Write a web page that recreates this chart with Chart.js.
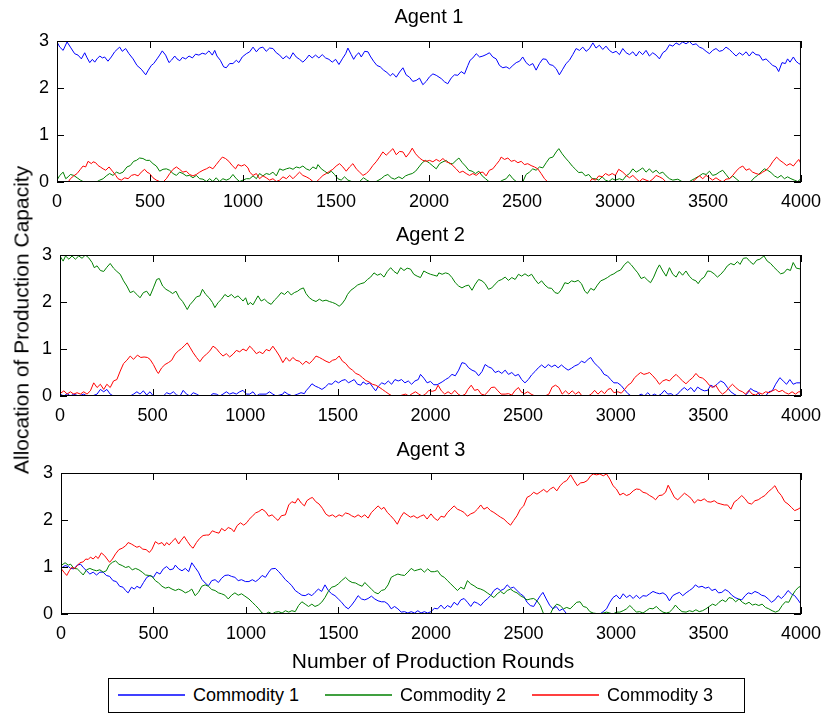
<!DOCTYPE html>
<html>
<head>
<meta charset="utf-8">
<title>Allocation of Production Capacity</title>
<script src="https://cdn.jsdelivr.net/npm/chart.js@4.4.1/dist/chart.umd.min.js"></script>
<style>
  html, body { margin: 0; padding: 0; background: #fff; }
  body { width: 830px; height: 715px; position: relative; overflow: hidden;
         font-family: "Liberation Sans", Arial, Helvetica, sans-serif; color: #000; }
  canvas { position: absolute; left: 0; }
  .axis-label { position: absolute; font-size: 21px; white-space: nowrap; line-height: 1; }
  #xlabel { left: 433px; top: 660px; transform: translate(-50%, -50%); }
  #ylabel { left: 21px; top: 320px; transform: translate(-50%, -50%) rotate(-90deg); }
  #legend { position: absolute; left: 108px; top: 678px; width: 635px; height: 33px;
            border: 1px solid #000; background: #fff; }
  .entry { position: absolute; top: 0; height: 33px; }
  .entry svg { position: absolute; left: 0; top: 11px; }
  .entry .name { position: absolute; left: 75px; top: 7px; font-size: 18px; line-height: 1; white-space: nowrap; }
</style>
</head>
<body>
<canvas id="agent1" width="830" height="215" style="top:0px"></canvas>
<canvas id="agent2" width="830" height="215" style="top:215px"></canvas>
<canvas id="agent3" width="830" height="220" style="top:430px"></canvas>
<div id="ylabel" class="axis-label">Allocation of Production Capacity</div>
<div id="xlabel" class="axis-label">Number of Production Rounds</div>
<div id="legend"></div>
<script>
// ---- data: [production round, allocated capacity] ----
const commodityNames = ['Commodity 1', 'Commodity 2', 'Commodity 3'];
const agentTitles = ['Agent 1', 'Agent 2', 'Agent 3'];
const roundTicks = { min: 0, max: 4000, step: 500 };
const capacityTicks = { min: 0, max: 3, step: 1 };

const agent1Commodity1 = [[0,2.98],[15,2.87],[33,2.80],[54,2.98],[72,2.87],[95,2.73],[113,2.70],[131,2.62],[149,2.75],[162,2.64],[176,2.54],[190,2.61],[203,2.55],[215,2.62],[230,2.68],[244,2.64],[256,2.66],[274,2.57],[292,2.66],[310,2.77],[323,2.82],[337,2.87],[351,2.78],[369,2.84],[387,2.73],[409,2.62],[430,2.48],[453,2.40],[477,2.28],[491,2.38],[507,2.48],[520,2.52],[538,2.62],[552,2.70],[566,2.79],[584,2.70],[602,2.54],[615,2.59],[633,2.68],[645,2.62],[660,2.58],[674,2.65],[692,2.62],[710,2.68],[728,2.64],[745,2.72],[763,2.70],[781,2.74],[799,2.72],[817,2.79],[835,2.70],[848,2.80],[860,2.68],[878,2.59],[896,2.45],[910,2.43],[928,2.52],[946,2.52],[964,2.59],[978,2.54],[996,2.66],[1018,2.73],[1036,2.77],[1054,2.87],[1072,2.77],[1089,2.85],[1107,2.87],[1125,2.78],[1143,2.85],[1161,2.84],[1179,2.75],[1197,2.70],[1215,2.62],[1233,2.68],[1251,2.62],[1269,2.75],[1286,2.66],[1304,2.61],[1322,2.55],[1340,2.62],[1355,2.70],[1372,2.64],[1390,2.70],[1408,2.64],[1426,2.71],[1444,2.64],[1462,2.61],[1480,2.55],[1498,2.61],[1516,2.50],[1534,2.62],[1552,2.73],[1564,2.85],[1582,2.71],[1595,2.61],[1609,2.70],[1623,2.75],[1636,2.66],[1654,2.78],[1672,2.77],[1684,2.68],[1702,2.57],[1720,2.48],[1738,2.45],[1756,2.38],[1774,2.33],[1792,2.26],[1806,2.31],[1824,2.23],[1842,2.34],[1860,2.43],[1877,2.28],[1895,2.23],[1913,2.14],[1931,2.16],[1949,2.21],[1967,2.07],[1985,2.14],[2003,2.24],[2021,2.30],[2039,2.27],[2066,2.20],[2084,2.13],[2101,2.09],[2119,2.21],[2137,2.28],[2155,2.27],[2173,2.35],[2191,2.30],[2209,2.48],[2221,2.59],[2236,2.64],[2254,2.73],[2272,2.66],[2290,2.68],[2307,2.71],[2325,2.75],[2343,2.66],[2361,2.62],[2379,2.48],[2397,2.43],[2415,2.45],[2433,2.41],[2451,2.48],[2469,2.54],[2487,2.57],[2504,2.66],[2522,2.54],[2540,2.48],[2558,2.52],[2576,2.38],[2594,2.52],[2612,2.62],[2630,2.61],[2648,2.50],[2666,2.48],[2684,2.41],[2701,2.28],[2719,2.40],[2737,2.52],[2755,2.59],[2773,2.71],[2791,2.84],[2809,2.80],[2827,2.87],[2845,2.78],[2863,2.84],[2881,2.96],[2898,2.85],[2916,2.91],[2934,2.82],[2952,2.89],[2970,2.80],[2988,2.75],[3006,2.78],[3024,2.71],[3042,2.84],[3060,2.75],[3078,2.71],[3096,2.77],[3114,2.68],[3131,2.78],[3149,2.71],[3167,2.80],[3185,2.68],[3203,2.75],[3221,2.70],[3239,2.62],[3257,2.75],[3275,2.80],[3293,2.92],[3311,2.89],[3328,2.96],[3346,2.92],[3364,2.98],[3382,2.94],[3400,2.99],[3418,2.92],[3436,2.94],[3454,2.87],[3472,2.84],[3490,2.78],[3508,2.73],[3525,2.80],[3543,2.84],[3561,2.78],[3579,2.80],[3597,2.87],[3615,2.82],[3633,2.75],[3651,2.68],[3669,2.75],[3687,2.70],[3705,2.77],[3722,2.68],[3740,2.77],[3758,2.71],[3776,2.70],[3794,2.59],[3812,2.62],[3830,2.55],[3848,2.48],[3866,2.45],[3880,2.35],[3898,2.54],[3916,2.52],[3928,2.62],[3941,2.55],[3959,2.66],[3973,2.57],[3988,2.52],[4000,2.50]];

const agent1Commodity2 = [[0,0.04],[15,0.14],[33,0.21],[47,0.07],[60,0.11],[72,0.16],[90,0.14],[108,0.09],[126,0.04],[140,0.01],[162,0],[185,0.01],[212,0],[230,0.04],[248,0.07],[265,0.13],[283,0.18],[301,0.14],[319,0.21],[337,0.18],[355,0.21],[376,0.32],[394,0.35],[412,0.44],[427,0.46],[444,0.51],[462,0.50],[480,0.46],[498,0.46],[516,0.39],[534,0.34],[552,0.23],[570,0.27],[588,0.28],[606,0.25],[624,0.18],[642,0.14],[659,0.21],[677,0.18],[695,0.13],[713,0.14],[731,0.09],[749,0.14],[767,0.07],[785,0.06],[803,0.01],[821,0.07],[838,0.01],[856,0.09],[874,0.01],[892,0.07],[910,0.04],[928,0.07],[946,0.16],[964,0.07],[982,0.01],[1000,0.04],[1018,0.07],[1036,0.07],[1054,0.13],[1072,0.07],[1089,0.18],[1107,0.13],[1125,0.18],[1143,0.16],[1161,0.21],[1179,0.13],[1197,0.28],[1215,0.25],[1233,0.28],[1251,0.30],[1269,0.27],[1286,0.32],[1304,0.30],[1322,0.34],[1340,0.28],[1358,0.25],[1376,0.32],[1394,0.28],[1403,0.37],[1421,0.28],[1439,0.23],[1457,0.18],[1475,0.23],[1492,0.16],[1510,0.07],[1528,0.04],[1546,0.11],[1564,0.04],[1591,0],[1627,0.01],[1648,0.09],[1666,0.04],[1684,0],[1716,0.01],[1743,0.07],[1761,0.13],[1779,0.16],[1797,0.09],[1815,0.06],[1838,0.11],[1856,0.07],[1874,0.13],[1892,0.16],[1910,0.18],[1928,0.23],[1946,0.32],[1964,0.41],[1981,0.46],[2003,0.40],[2021,0.34],[2039,0.28],[2057,0.39],[2075,0.43],[2093,0.46],[2110,0.39],[2128,0.39],[2146,0.46],[2161,0.51],[2179,0.41],[2196,0.34],[2214,0.25],[2232,0.23],[2250,0.18],[2268,0.23],[2286,0.13],[2304,0.07],[2322,0.01],[2343,0],[2379,0],[2397,0.04],[2415,0.07],[2433,0.16],[2451,0.07],[2469,0.01],[2487,0],[2504,0],[2522,0.16],[2540,0.21],[2558,0.28],[2576,0.25],[2594,0.32],[2612,0.30],[2630,0.41],[2648,0.51],[2666,0.53],[2684,0.64],[2698,0.71],[2716,0.60],[2734,0.51],[2752,0.43],[2770,0.34],[2788,0.27],[2805,0.20],[2823,0.21],[2841,0.13],[2859,0.16],[2877,0.07],[2895,0.07],[2913,0.04],[2931,0.11],[2949,0.04],[2967,0.01],[2985,0.07],[3002,0.04],[3024,0.07],[3042,0.04],[3060,0.13],[3078,0.18],[3096,0.28],[3114,0.21],[3131,0.25],[3149,0.30],[3167,0.21],[3185,0.28],[3203,0.20],[3221,0.25],[3239,0.18],[3257,0.21],[3275,0.13],[3293,0.07],[3311,0.04],[3338,0.06],[3364,0],[3400,0.01],[3427,0.07],[3454,0.13],[3472,0.18],[3490,0.16],[3508,0.23],[3525,0.14],[3543,0.16],[3561,0.21],[3579,0.25],[3597,0.16],[3615,0.07],[3633,0.13],[3651,0.07],[3669,0.01],[3705,0],[3731,0.01],[3749,0.09],[3767,0.14],[3785,0.21],[3803,0.28],[3821,0.25],[3839,0.20],[3857,0.13],[3875,0.09],[3893,0.14],[3911,0.07],[3928,0.11],[3946,0.07],[3964,0.04],[3982,0.01],[4000,0.07]];

const agent1Commodity3 = [[0,0.01],[33,0],[60,0],[72,0.07],[90,0.13],[108,0.18],[126,0.27],[140,0.34],[154,0.32],[167,0.44],[185,0.39],[194,0.43],[208,0.41],[221,0.35],[233,0.32],[248,0.28],[262,0.25],[280,0.32],[298,0.23],[316,0.14],[328,0.07],[346,0.04],[364,0.09],[382,0.07],[400,0.14],[418,0.16],[436,0.13],[453,0.21],[471,0.27],[484,0.21],[498,0.18],[516,0.09],[534,0.04],[552,0.01],[570,0],[588,0.07],[606,0.18],[624,0.27],[642,0.32],[659,0.27],[677,0.21],[695,0.23],[713,0.16],[731,0.13],[749,0.16],[767,0.21],[785,0.25],[803,0.28],[821,0.32],[838,0.28],[856,0.37],[874,0.46],[889,0.53],[906,0.50],[924,0.44],[942,0.35],[960,0.28],[973,0.37],[991,0.34],[1009,0.37],[1027,0.30],[1036,0.21],[1054,0.14],[1072,0.18],[1089,0.07],[1107,0.13],[1125,0.09],[1143,0.04],[1161,0.07],[1179,0.01],[1197,0.04],[1215,0.11],[1233,0.07],[1251,0.14],[1269,0.07],[1286,0.14],[1304,0.21],[1322,0.14],[1340,0.11],[1358,0.07],[1376,0.01],[1394,0],[1412,0.07],[1430,0.14],[1448,0.18],[1466,0.23],[1483,0.27],[1501,0.34],[1519,0.39],[1537,0.32],[1555,0.23],[1573,0.32],[1591,0.39],[1609,0.28],[1627,0.21],[1645,0.14],[1663,0.18],[1680,0.25],[1698,0.35],[1716,0.43],[1734,0.53],[1752,0.64],[1770,0.57],[1788,0.64],[1806,0.71],[1824,0.58],[1842,0.65],[1860,0.64],[1877,0.53],[1895,0.62],[1910,0.72],[1928,0.60],[1949,0.51],[1967,0.46],[1985,0.44],[2003,0.46],[2021,0.43],[2039,0.48],[2057,0.44],[2075,0.50],[2093,0.43],[2110,0.41],[2128,0.35],[2146,0.28],[2164,0.20],[2182,0.23],[2200,0.18],[2218,0.14],[2236,0.18],[2254,0.14],[2272,0.20],[2290,0.21],[2307,0.13],[2325,0.25],[2343,0.28],[2361,0.37],[2379,0.46],[2388,0.53],[2406,0.48],[2424,0.51],[2442,0.44],[2460,0.46],[2478,0.41],[2496,0.44],[2513,0.37],[2531,0.39],[2549,0.35],[2567,0.32],[2585,0.28],[2603,0.18],[2621,0.07],[2639,0],[2684,0],[2755,0],[2827,0],[2863,0],[2877,0.07],[2895,0.04],[2913,0.13],[2931,0.11],[2949,0.18],[2967,0.14],[2985,0.18],[3002,0.14],[3020,0.27],[3042,0.21],[3060,0.14],[3078,0.09],[3096,0.14],[3114,0.07],[3131,0.01],[3149,0.07],[3167,0.04],[3185,0.01],[3203,0.06],[3221,0.14],[3239,0.11],[3257,0.07],[3275,0],[3311,0],[3346,0.01],[3382,0],[3418,0.01],[3436,0.07],[3454,0.13],[3472,0.07],[3490,0.14],[3508,0.09],[3525,0.04],[3543,0.09],[3561,0.04],[3579,0],[3597,0.06],[3615,0.07],[3633,0.14],[3651,0.23],[3669,0.30],[3687,0.34],[3705,0.25],[3722,0.28],[3740,0.21],[3758,0.18],[3776,0.16],[3794,0.21],[3812,0.25],[3830,0.32],[3848,0.43],[3869,0.53],[3887,0.46],[3905,0.41],[3923,0.35],[3941,0.39],[3959,0.34],[3973,0.41],[3988,0.48],[4000,0.39]];

const agent2Commodity1 = [[0,0.04],[21,0],[39,0.05],[56,0],[74,0.04],[101,0],[128,0.04],[146,0],[173,0],[200,0.04],[218,0.14],[236,0.09],[253,0.14],[271,0.04],[289,0],[379,0],[397,0.04],[415,0.09],[432,0.04],[450,0.11],[468,0.02],[486,0.09],[504,0],[558,0],[576,0.07],[594,0.04],[612,0.09],[630,0.02],[648,0],[665,0.12],[683,0.04],[701,0],[719,0.07],[737,0.04],[755,0],[809,0],[826,0.05],[844,0.04],[862,0],[880,0.04],[898,0.09],[916,0.04],[934,0.07],[952,0.04],[970,0.09],[988,0.12],[1006,0.04],[1024,0.04],[1042,0.09],[1060,0],[1077,0.04],[1113,0.04],[1131,0.09],[1149,0.04],[1167,0],[1203,0.04],[1212,0.09],[1230,0.04],[1257,0],[1283,0.04],[1301,0.07],[1319,0.05],[1328,0.11],[1346,0.19],[1360,0.26],[1378,0.21],[1396,0.18],[1414,0.14],[1432,0.19],[1450,0.26],[1468,0.25],[1486,0.32],[1504,0.28],[1522,0.33],[1540,0.35],[1557,0.28],[1575,0.32],[1588,0.35],[1606,0.25],[1624,0.23],[1636,0.30],[1654,0.25],[1672,0.28],[1690,0.18],[1704,0.11],[1719,0.21],[1737,0.28],[1754,0.25],[1772,0.32],[1790,0.25],[1808,0.35],[1826,0.32],[1844,0.35],[1862,0.28],[1880,0.32],[1898,0.25],[1916,0.32],[1934,0.35],[1946,0.46],[1964,0.38],[1982,0.28],[2000,0.31],[2018,0.24],[2036,0.24],[2063,0.30],[2081,0.35],[2098,0.39],[2116,0.46],[2134,0.43],[2152,0.55],[2170,0.71],[2188,0.69],[2206,0.60],[2224,0.55],[2242,0.52],[2260,0.43],[2278,0.52],[2295,0.67],[2313,0.62],[2331,0.59],[2349,0.50],[2367,0.53],[2385,0.48],[2403,0.55],[2421,0.46],[2439,0.50],[2457,0.43],[2475,0.46],[2492,0.35],[2510,0.28],[2528,0.35],[2546,0.45],[2564,0.52],[2582,0.60],[2600,0.66],[2618,0.60],[2636,0.67],[2654,0.62],[2672,0.66],[2689,0.60],[2707,0.66],[2725,0.60],[2743,0.55],[2761,0.59],[2779,0.64],[2797,0.67],[2815,0.74],[2833,0.71],[2851,0.78],[2865,0.82],[2883,0.71],[2901,0.64],[2919,0.57],[2937,0.46],[2955,0.43],[2973,0.35],[2990,0.28],[3010,0.28],[3030,0.22],[3048,0.13],[3066,0.05],[3084,0],[3119,0],[3137,0.04],[3155,0],[3173,0.07],[3191,0],[3209,0.04],[3227,0],[3245,0.04],[3263,0.12],[3281,0.04],[3299,0.05],[3316,0],[3334,0.04],[3352,0.12],[3370,0.18],[3388,0.12],[3406,0.18],[3424,0.09],[3442,0.19],[3460,0.14],[3478,0.11],[3496,0.12],[3513,0.23],[3531,0.19],[3549,0.26],[3567,0.32],[3585,0.28],[3603,0.18],[3621,0.09],[3639,0.04],[3657,0],[3693,0],[3710,0.05],[3728,0.16],[3746,0.11],[3764,0.09],[3782,0],[3809,0],[3827,0.09],[3845,0.11],[3863,0.25],[3886,0.39],[3904,0.32],[3922,0.25],[3940,0.35],[3958,0.25],[3976,0.28],[4000,0.28]];

const agent2Commodity2 = [[0,2.98],[17,2.87],[30,2.98],[48,2.91],[65,2.98],[83,2.91],[101,2.98],[119,2.93],[137,3.0],[155,2.94],[173,2.84],[185,2.73],[200,2.77],[218,2.67],[236,2.65],[253,2.74],[271,2.82],[289,2.72],[307,2.65],[325,2.59],[343,2.45],[361,2.34],[379,2.20],[397,2.23],[415,2.16],[432,2.09],[450,2.20],[468,2.23],[486,2.13],[504,2.30],[522,2.48],[536,2.50],[554,2.34],[572,2.27],[590,2.23],[608,2.18],[626,2.23],[644,2.09],[662,2.01],[680,1.89],[687,1.84],[701,1.94],[719,2.02],[737,2.11],[755,2.13],[769,2.27],[787,2.16],[805,2.09],[823,1.99],[836,1.88],[854,1.99],[872,2.06],[890,2.16],[907,2.11],[925,2.16],[943,2.09],[961,2.13],[979,2.06],[988,2.02],[1002,2.09],[1015,1.94],[1027,1.99],[1042,1.94],[1056,2.04],[1069,2.13],[1086,2.02],[1104,2.06],[1122,1.99],[1140,1.95],[1158,2.04],[1176,2.11],[1194,2.20],[1212,2.16],[1230,2.23],[1248,2.15],[1265,2.20],[1283,2.23],[1296,2.27],[1314,2.30],[1328,2.18],[1346,2.09],[1364,2.04],[1382,2.01],[1400,2.06],[1418,2.02],[1436,2.04],[1454,2.01],[1471,1.99],[1489,1.96],[1507,1.91],[1522,1.96],[1540,2.06],[1552,2.16],[1570,2.25],[1588,2.30],[1606,2.36],[1624,2.39],[1642,2.41],[1660,2.48],[1677,2.53],[1695,2.62],[1713,2.57],[1731,2.60],[1749,2.53],[1767,2.65],[1785,2.73],[1803,2.65],[1821,2.60],[1839,2.73],[1857,2.67],[1874,2.72],[1892,2.70],[1910,2.59],[1928,2.55],[1946,2.52],[1964,2.66],[1982,2.62],[2000,2.59],[2018,2.57],[2036,2.55],[2045,2.62],[2063,2.59],[2081,2.62],[2098,2.60],[2116,2.52],[2134,2.41],[2152,2.34],[2170,2.30],[2188,2.34],[2206,2.36],[2224,2.25],[2242,2.38],[2260,2.48],[2278,2.45],[2295,2.39],[2313,2.27],[2331,2.30],[2349,2.38],[2367,2.45],[2385,2.48],[2403,2.53],[2421,2.46],[2439,2.52],[2457,2.48],[2475,2.59],[2492,2.55],[2510,2.60],[2528,2.55],[2546,2.59],[2564,2.48],[2582,2.39],[2600,2.45],[2618,2.36],[2636,2.30],[2654,2.29],[2672,2.20],[2689,2.18],[2707,2.27],[2725,2.41],[2743,2.39],[2761,2.45],[2779,2.43],[2797,2.46],[2815,2.39],[2833,2.23],[2847,2.18],[2865,2.29],[2883,2.25],[2901,2.36],[2919,2.45],[2937,2.48],[2955,2.52],[2973,2.57],[2990,2.60],[3008,2.65],[3026,2.68],[3048,2.80],[3066,2.86],[3084,2.79],[3102,2.70],[3119,2.62],[3137,2.50],[3155,2.53],[3173,2.46],[3188,2.41],[3205,2.53],[3223,2.70],[3236,2.79],[3254,2.66],[3272,2.55],[3290,2.73],[3308,2.59],[3326,2.53],[3343,2.65],[3361,2.57],[3379,2.66],[3397,2.55],[3415,2.48],[3433,2.45],[3445,2.39],[3460,2.48],[3478,2.53],[3496,2.66],[3513,2.65],[3531,2.60],[3549,2.53],[3567,2.59],[3585,2.67],[3603,2.77],[3621,2.82],[3639,2.79],[3657,2.86],[3671,2.80],[3689,2.93],[3707,2.94],[3725,2.86],[3743,2.80],[3761,2.89],[3778,2.91],[3800,2.98],[3818,2.87],[3836,2.82],[3854,2.74],[3872,2.67],[3890,2.60],[3908,2.62],[3925,2.70],[3943,2.67],[3958,2.84],[3975,2.72],[4000,2.70]];

const agent2Commodity3 = [[0,0.05],[21,0.11],[39,0.04],[56,0.09],[74,0.04],[92,0.07],[110,0.04],[128,0.09],[146,0.04],[164,0.11],[182,0.28],[200,0.18],[218,0.25],[236,0.14],[253,0.25],[271,0.18],[289,0.32],[307,0.35],[325,0.53],[343,0.69],[361,0.76],[379,0.85],[397,0.78],[418,0.87],[436,0.82],[454,0.83],[472,0.82],[486,0.78],[504,0.67],[522,0.53],[531,0.48],[549,0.60],[567,0.67],[585,0.71],[603,0.76],[621,0.89],[639,0.96],[656,1.01],[674,1.08],[687,1.13],[701,1.04],[719,0.92],[737,0.82],[755,0.73],[773,0.83],[791,0.89],[809,0.96],[826,1.06],[844,1.01],[862,0.92],[880,0.85],[898,0.90],[916,0.83],[934,0.89],[952,0.97],[970,0.94],[988,1.00],[1006,0.96],[1024,1.06],[1042,0.99],[1060,0.90],[1077,0.94],[1095,0.90],[1113,0.99],[1131,0.96],[1149,1.06],[1167,0.96],[1185,0.85],[1203,0.71],[1221,0.82],[1239,0.74],[1257,0.82],[1274,0.76],[1292,0.74],[1310,0.67],[1328,0.74],[1346,0.69],[1364,0.76],[1382,0.85],[1400,0.82],[1418,0.78],[1436,0.74],[1454,0.71],[1471,0.76],[1489,0.78],[1507,0.85],[1525,0.74],[1543,0.69],[1561,0.60],[1579,0.55],[1597,0.48],[1615,0.45],[1633,0.39],[1651,0.33],[1668,0.30],[1686,0.25],[1704,0.23],[1722,0.19],[1740,0.14],[1758,0.09],[1776,0.04],[1794,0],[1830,0],[1865,0.04],[1883,0],[1901,0.05],[1919,0.09],[1937,0.04],[1955,0],[1973,0.04],[1991,0.12],[2009,0.10],[2027,0.12],[2041,0.23],[2059,0.11],[2077,0.04],[2095,0.09],[2113,0.04],[2131,0.12],[2149,0.04],[2167,0],[2188,0.04],[2202,0.14],[2220,0.23],[2238,0.12],[2256,0.14],[2274,0.04],[2292,0.02],[2310,0.09],[2328,0.18],[2346,0.19],[2364,0.11],[2381,0.04],[2403,0.04],[2421,0.05],[2439,0.02],[2457,0.12],[2475,0.18],[2489,0.09],[2507,0.05],[2525,0.09],[2543,0.04],[2564,0],[2618,0],[2639,0.04],[2657,0.19],[2675,0.23],[2693,0.18],[2711,0.04],[2729,0.11],[2747,0.04],[2765,0.11],[2783,0.04],[2801,0.09],[2818,0],[2851,0],[2868,0.04],[2886,0.12],[2904,0.04],[2922,0.11],[2940,0.05],[2958,0.14],[2973,0.16],[2990,0.07],[3012,0.09],[3030,0.06],[3048,0.14],[3066,0.23],[3084,0.28],[3102,0.39],[3119,0.45],[3134,0.50],[3152,0.46],[3170,0.48],[3182,0.50],[3200,0.43],[3218,0.35],[3236,0.25],[3254,0.32],[3272,0.35],[3290,0.32],[3308,0.40],[3326,0.46],[3343,0.39],[3361,0.32],[3379,0.26],[3397,0.33],[3415,0.39],[3433,0.48],[3451,0.40],[3469,0.38],[3487,0.32],[3505,0.23],[3522,0.18],[3540,0.23],[3558,0.11],[3576,0.04],[3594,0.09],[3612,0.18],[3630,0.25],[3648,0.18],[3666,0.12],[3684,0.09],[3701,0.04],[3719,0.12],[3737,0.04],[3755,0.02],[3773,0.07],[3791,0.04],[3809,0.09],[3827,0.07],[3845,0.11],[3863,0.14],[3881,0.09],[3899,0.12],[3916,0.07],[3934,0.04],[3952,0.09],[3970,0.04],[3988,0.09],[4000,0.09]];

const agent3Commodity1 = [[0,0.97],[22,1.03],[40,1.01],[52,0.97],[70,0.96],[88,1.04],[106,1.06],[120,0.99],[138,0.92],[156,0.85],[174,0.89],[192,0.83],[210,0.89],[228,0.89],[245,0.82],[263,0.80],[281,0.71],[299,0.69],[317,0.59],[335,0.57],[349,0.50],[363,0.45],[381,0.57],[397,0.53],[410,0.59],[428,0.55],[446,0.67],[464,0.78],[482,0.82],[500,0.78],[517,0.89],[535,0.85],[553,0.96],[571,1.01],[589,0.94],[607,0.96],[618,1.04],[636,0.96],[654,0.92],[672,0.97],[690,0.90],[707,1.09],[725,0.99],[743,0.89],[761,0.74],[779,0.66],[797,0.60],[815,0.71],[833,0.73],[851,0.67],[868,0.76],[886,0.82],[904,0.83],[922,0.80],[940,0.78],[958,0.71],[976,0.73],[997,0.69],[1016,0.69],[1034,0.73],[1052,0.69],[1069,0.74],[1087,0.82],[1105,0.78],[1123,0.89],[1137,0.96],[1159,0.97],[1177,0.90],[1195,0.82],[1213,0.73],[1231,0.67],[1248,0.60],[1266,0.50],[1284,0.45],[1302,0.40],[1320,0.39],[1338,0.43],[1356,0.39],[1373,0.46],[1391,0.53],[1409,0.48],[1427,0.62],[1445,0.50],[1463,0.43],[1481,0.39],[1499,0.32],[1517,0.25],[1535,0.16],[1553,0.11],[1571,0.19],[1588,0.28],[1606,0.39],[1624,0.32],[1642,0.30],[1660,0.33],[1678,0.38],[1696,0.32],[1714,0.28],[1732,0.26],[1750,0.26],[1768,0.21],[1785,0.11],[1803,0.16],[1821,0.11],[1839,0.04],[1857,0.05],[1875,0.02],[1893,0.05],[1911,0.02],[1929,0.07],[1946,0.02],[1964,0.05],[1982,0.02],[2000,0.05],[2018,0.12],[2036,0.11],[2054,0.19],[2072,0.11],[2089,0.18],[2107,0.14],[2125,0.25],[2143,0.19],[2161,0.30],[2179,0.33],[2197,0.25],[2215,0.16],[2233,0.26],[2251,0.23],[2269,0.18],[2286,0.26],[2304,0.32],[2322,0.39],[2340,0.50],[2358,0.55],[2376,0.50],[2394,0.53],[2412,0.62],[2430,0.55],[2447,0.57],[2465,0.50],[2483,0.43],[2501,0.38],[2519,0.25],[2537,0.18],[2555,0.16],[2573,0.28],[2591,0.39],[2605,0.46],[2623,0.32],[2641,0.19],[2659,0.11],[2677,0.16],[2694,0.07],[2712,0.11],[2734,0],[2770,0],[2841,0],[2913,0],[2931,0.05],[2949,0.11],[2967,0.25],[2984,0.35],[3002,0.40],[3021,0.32],[3039,0.43],[3057,0.35],[3075,0.40],[3093,0.33],[3110,0.40],[3128,0.33],[3146,0.39],[3164,0.38],[3182,0.43],[3200,0.48],[3218,0.45],[3236,0.43],[3254,0.45],[3272,0.40],[3289,0.28],[3307,0.39],[3325,0.43],[3343,0.46],[3361,0.39],[3379,0.45],[3397,0.50],[3415,0.55],[3429,0.62],[3447,0.57],[3465,0.59],[3483,0.55],[3501,0.57],[3519,0.50],[3537,0.53],[3554,0.45],[3572,0.46],[3590,0.52],[3608,0.48],[3626,0.40],[3644,0.35],[3662,0.32],[3680,0.30],[3698,0.39],[3715,0.45],[3733,0.43],[3751,0.48],[3769,0.45],[3787,0.40],[3805,0.38],[3823,0.32],[3841,0.25],[3859,0.30],[3876,0.39],[3894,0.33],[3912,0.40],[3930,0.50],[3948,0.43],[3966,0.39],[3984,0.30],[4000,0.21]];

const agent3Commodity2 = [[0,1.03],[22,1.09],[40,1.04],[52,1.06],[70,0.97],[88,0.96],[106,0.89],[120,0.83],[138,0.94],[156,0.97],[174,0.94],[192,0.92],[210,0.94],[228,0.89],[245,0.92],[260,1.04],[278,1.10],[295,1.13],[313,1.06],[331,1.03],[349,0.99],[367,1.01],[385,0.94],[403,0.97],[421,0.94],[439,0.89],[457,0.83],[475,0.82],[492,0.80],[510,0.71],[528,0.66],[546,0.59],[564,0.55],[582,0.57],[600,0.53],[618,0.50],[636,0.53],[654,0.50],[672,0.45],[690,0.48],[707,0.53],[725,0.39],[743,0.46],[761,0.59],[779,0.62],[797,0.59],[815,0.52],[833,0.50],[851,0.45],[868,0.43],[886,0.40],[904,0.32],[922,0.40],[940,0.45],[958,0.40],[976,0.43],[994,0.38],[1016,0.32],[1034,0.25],[1052,0.18],[1069,0.11],[1087,0.02],[1105,0],[1123,0.04],[1141,0],[1159,0.04],[1177,0.05],[1195,0.02],[1213,0.07],[1231,0.04],[1248,0.07],[1266,0.05],[1284,0.18],[1302,0.26],[1320,0.21],[1338,0.16],[1356,0.21],[1373,0.16],[1391,0.19],[1409,0.25],[1427,0.35],[1445,0.48],[1463,0.57],[1481,0.59],[1499,0.64],[1517,0.71],[1538,0.78],[1556,0.71],[1574,0.67],[1592,0.66],[1610,0.62],[1628,0.59],[1642,0.67],[1660,0.60],[1678,0.53],[1696,0.46],[1714,0.43],[1732,0.50],[1750,0.52],[1768,0.62],[1785,0.78],[1803,0.82],[1821,0.85],[1839,0.83],[1857,0.82],[1875,0.89],[1893,0.97],[1911,0.92],[1929,0.94],[1946,0.96],[1964,0.89],[1982,0.96],[2000,0.90],[2018,0.90],[2036,0.92],[2054,0.82],[2072,0.78],[2089,0.71],[2107,0.64],[2125,0.57],[2143,0.50],[2161,0.57],[2179,0.53],[2197,0.71],[2215,0.64],[2233,0.60],[2251,0.55],[2269,0.53],[2286,0.50],[2304,0.45],[2322,0.40],[2340,0.35],[2358,0.43],[2376,0.48],[2394,0.43],[2412,0.50],[2430,0.53],[2447,0.48],[2465,0.45],[2483,0.39],[2501,0.35],[2519,0.30],[2537,0.32],[2555,0.33],[2573,0.28],[2591,0.18],[2609,0],[2645,0],[2662,0.14],[2680,0.21],[2698,0.18],[2716,0.11],[2734,0.14],[2752,0.11],[2770,0.18],[2788,0.25],[2806,0.26],[2823,0.16],[2841,0.14],[2859,0.05],[2877,0.02],[2913,0],[2949,0.04],[2984,0],[3002,0.04],[3021,0.04],[3039,0.07],[3057,0.11],[3075,0.18],[3093,0.11],[3110,0.04],[3128,0.05],[3146,0.02],[3164,0.07],[3182,0.12],[3200,0.11],[3218,0.16],[3236,0.09],[3254,0.04],[3272,0.02],[3289,0.04],[3307,0.11],[3321,0.19],[3339,0.11],[3357,0.05],[3379,0.04],[3397,0.07],[3415,0.05],[3432,0.09],[3450,0.05],[3468,0.07],[3486,0.11],[3504,0.16],[3522,0.21],[3540,0.18],[3557,0.25],[3575,0.30],[3593,0.26],[3611,0.35],[3629,0.33],[3647,0.26],[3665,0.32],[3683,0.25],[3701,0.21],[3719,0.25],[3737,0.19],[3754,0.21],[3772,0.18],[3790,0.21],[3808,0.14],[3826,0.11],[3844,0.07],[3862,0.04],[3880,0.07],[3898,0.18],[3916,0.26],[3934,0.25],[3952,0.39],[3970,0.50],[3987,0.57],[4000,0.59]];

const agent3Commodity3 = [[0,0.97],[16,0.89],[31,0.82],[45,0.92],[57,0.99],[75,0.97],[88,1.03],[102,1.09],[120,1.11],[134,1.17],[147,1.16],[159,1.21],[174,1.17],[188,1.23],[201,1.18],[218,1.30],[236,1.24],[249,1.17],[263,1.10],[278,1.17],[295,1.28],[313,1.37],[331,1.40],[349,1.45],[363,1.52],[380,1.49],[397,1.45],[410,1.42],[424,1.44],[442,1.38],[460,1.37],[478,1.31],[492,1.38],[510,1.54],[528,1.49],[546,1.52],[559,1.45],[571,1.52],[585,1.47],[600,1.54],[618,1.61],[636,1.49],[648,1.56],[666,1.65],[684,1.54],[702,1.44],[714,1.40],[732,1.52],[750,1.61],[768,1.67],[786,1.68],[800,1.68],[818,1.77],[836,1.74],[854,1.72],[868,1.82],[886,1.77],[904,1.84],[922,1.81],[935,1.75],[952,1.88],[970,1.94],[988,1.89],[1006,1.95],[1016,2.01],[1034,2.08],[1052,2.15],[1069,2.18],[1087,2.23],[1105,2.18],[1123,2.08],[1141,2.11],[1159,2.04],[1173,1.99],[1191,2.09],[1213,2.11],[1231,2.32],[1248,2.39],[1266,2.36],[1281,2.46],[1299,2.36],[1316,2.30],[1329,2.41],[1347,2.46],[1359,2.48],[1377,2.39],[1395,2.34],[1413,2.25],[1431,2.13],[1449,2.08],[1467,2.11],[1485,2.06],[1503,2.11],[1520,2.08],[1538,2.15],[1556,2.13],[1571,2.09],[1588,2.06],[1606,2.11],[1624,2.06],[1642,2.11],[1660,2.04],[1678,2.16],[1696,2.23],[1714,2.30],[1732,2.23],[1746,2.27],[1764,2.16],[1782,2.09],[1800,2.01],[1818,1.91],[1836,2.06],[1853,2.16],[1871,2.11],[1889,2.06],[1907,2.09],[1925,2.04],[1943,2.08],[1961,2.11],[1979,2.02],[2000,2.13],[2018,2.04],[2036,1.99],[2054,2.08],[2072,2.06],[2089,2.16],[2107,2.23],[2125,2.30],[2143,2.23],[2161,2.20],[2179,2.16],[2197,2.08],[2215,2.13],[2233,2.16],[2251,2.23],[2269,2.32],[2286,2.23],[2304,2.27],[2322,2.20],[2340,2.16],[2358,2.11],[2376,2.06],[2394,2.02],[2412,1.95],[2430,1.89],[2447,1.99],[2465,2.09],[2483,2.23],[2501,2.30],[2519,2.48],[2537,2.52],[2555,2.59],[2573,2.55],[2591,2.60],[2609,2.65],[2627,2.59],[2645,2.66],[2662,2.70],[2680,2.62],[2698,2.73],[2716,2.80],[2734,2.84],[2755,2.96],[2773,2.84],[2791,2.73],[2809,2.79],[2827,2.80],[2845,2.84],[2863,2.94],[2877,2.98],[2895,2.96],[2913,2.98],[2931,2.94],[2949,2.98],[2967,2.87],[2984,2.73],[3002,2.66],[3021,2.53],[3039,2.57],[3057,2.52],[3075,2.55],[3093,2.62],[3110,2.66],[3128,2.65],[3146,2.59],[3164,2.57],[3182,2.52],[3200,2.48],[3214,2.43],[3232,2.52],[3250,2.53],[3268,2.59],[3282,2.74],[3298,2.62],[3316,2.48],[3334,2.43],[3352,2.50],[3370,2.57],[3388,2.52],[3406,2.46],[3424,2.36],[3442,2.43],[3459,2.41],[3477,2.45],[3495,2.39],[3513,2.38],[3531,2.41],[3549,2.36],[3567,2.34],[3585,2.32],[3603,2.32],[3621,2.23],[3639,2.38],[3656,2.43],[3680,2.52],[3698,2.45],[3715,2.36],[3733,2.34],[3751,2.41],[3769,2.43],[3787,2.48],[3805,2.52],[3823,2.60],[3841,2.66],[3859,2.73],[3877,2.60],[3894,2.52],[3912,2.39],[3930,2.34],[3948,2.27],[3966,2.20],[3984,2.23],[4000,2.27]];

// ---- styling ----
const commodityColors = ['#0000ff', '#008000', '#ff0000'];
const FONT = '"Liberation Sans", Arial, Helvetica, sans-serif';

// Panel geometry on the page (canvas top/height, plot box edges in canvas pixels)
const panels = [
  { canvas: 'agent1', h: 215, box: { left: 57, right: 802, top: 41, bottom: 182 },
    series: [agent1Commodity1, agent1Commodity2, agent1Commodity3], title: agentTitles[0], gap: 24 },
  { canvas: 'agent2', h: 215, box: { left: 60, right: 803, top: 40, bottom: 181 },
    series: [agent2Commodity1, agent2Commodity2, agent2Commodity3], title: agentTitles[1], gap: 20 },
  { canvas: 'agent3', h: 220, box: { left: 61, right: 806, top: 43, bottom: 184 },
    series: [agent3Commodity1, agent3Commodity2, agent3Commodity3], title: agentTitles[2], gap: 23 }
];

// Boxed frame with inward tick marks on all four sides
const framePlugin = {
  id: 'frame',
  afterDatasetsDraw(chart) {
    const { ctx, chartArea: a, scales: { x, y } } = chart;
    const len = 7;
    ctx.save();
    ctx.strokeStyle = '#000';
    ctx.lineWidth = 1;
    ctx.beginPath();
    x.ticks.forEach(t => {
      const px = Math.round(x.getPixelForValue(t.value)) + 0.5;
      ctx.moveTo(px, a.bottom); ctx.lineTo(px, a.bottom - len);
      ctx.moveTo(px, a.top); ctx.lineTo(px, a.top + len);
    });
    y.ticks.forEach(t => {
      const py = Math.round(y.getPixelForValue(t.value)) + 0.5;
      ctx.moveTo(a.left, py); ctx.lineTo(a.left + len, py);
      ctx.moveTo(a.right, py); ctx.lineTo(a.right - len, py);
    });
    ctx.stroke();
    ctx.strokeRect(a.left + 0.5, a.top + 0.5, a.right - a.left - 1, a.bottom - a.top - 1);
    ctx.restore();
  }
};

// Panel heading centred above each plot box
const headingPlugin = {
  id: 'heading',
  afterDraw(chart, args, opts) {
    const { ctx, chartArea: a } = chart;
    ctx.save();
    ctx.fillStyle = '#000';
    ctx.font = '20px ' + FONT;
    ctx.textAlign = 'center';
    ctx.textBaseline = 'middle';
    ctx.fillText(opts.text, (a.left + a.right) / 2, a.top - opts.gap);
    ctx.restore();
  }
};

panels.forEach(p => {
  const datasets = p.series.map((s, i) => ({
    label: commodityNames[i],
    data: s.map(([x, y]) => ({ x, y })),
    borderColor: commodityColors[i],
    backgroundColor: commodityColors[i],
    borderWidth: 1,
    pointRadius: 0,
    fill: false,
    tension: 0,
    order: 3 - i
  }));
  new Chart(document.getElementById(p.canvas), {
    type: 'line',
    data: { datasets },
    plugins: [framePlugin, headingPlugin],
    options: {
      responsive: false,
      animation: false,
      devicePixelRatio: 1,
      events: [],
      layout: { padding: { left: 0, right: 830 - p.box.right, top: p.box.top, bottom: 0 } },
      plugins: {
        legend: { display: false },
        tooltip: { enabled: false },
        heading: { text: p.title, gap: p.gap }
      },
      scales: {
        x: {
          type: 'linear',
          min: roundTicks.min, max: roundTicks.max,
          afterFit(s) { s.height = p.h - p.box.bottom; },
          ticks: { stepSize: roundTicks.step, padding: 9, color: '#000', autoSkip: false, maxRotation: 0,
                   font: { family: FONT, size: 18 }, callback: v => String(v) },
          grid: { display: false, drawTicks: false },
          border: { display: false }
        },
        y: {
          type: 'linear',
          min: capacityTicks.min, max: capacityTicks.max,
          afterFit(s) { s.width = p.box.left; },
          ticks: { stepSize: capacityTicks.step, padding: 8, color: '#000',
                   font: { family: FONT, size: 18 }, callback: v => String(v) },
          grid: { display: false, drawTicks: false },
          border: { display: false }
        }
      }
    }
  });
});

// Legend entries: coloured line sample followed by the commodity name
const SVG_NS = 'http://www.w3.org/2000/svg';
const legend = document.getElementById('legend');
commodityNames.forEach((name, i) => {
  const e = document.createElement('div');
  e.className = 'entry';
  e.style.left = (9 + 207 * i) + 'px';
  const svg = document.createElementNS(SVG_NS, 'svg');
  svg.setAttribute('width', '67');
  svg.setAttribute('height', '10');
  const line = document.createElementNS(SVG_NS, 'line');
  line.setAttribute('x1', '0'); line.setAttribute('x2', '67');
  line.setAttribute('y1', '5'); line.setAttribute('y2', '5');
  line.setAttribute('stroke', commodityColors[i]);
  line.setAttribute('stroke-width', '1.6');
  svg.appendChild(line);
  const label = document.createElement('div');
  label.className = 'name';
  label.textContent = name;
  e.appendChild(svg);
  e.appendChild(label);
  legend.appendChild(e);
});
</script>
</body>
</html>
